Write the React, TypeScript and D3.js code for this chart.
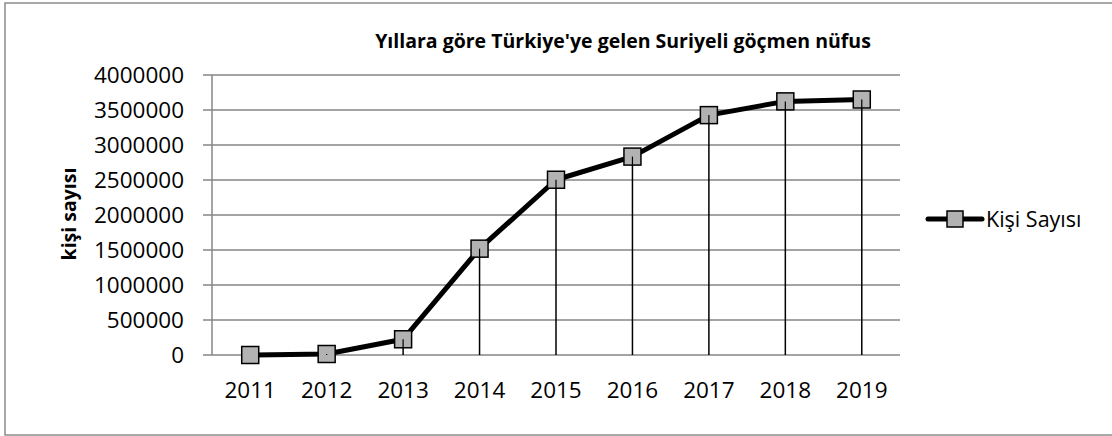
import React, { useEffect, useRef } from 'react';
import * as d3 from 'd3';

const years = ['2011', '2012', '2013', '2014', '2015', '2016', '2017', '2018', '2019'];
const people = [0, 14237, 224655, 1519286, 2503549, 2834441, 3426786, 3623192, 3650000];
const yTicks = [0, 500000, 1000000, 1500000, 2000000, 2500000, 3000000, 3500000, 4000000];

const title = "Yıllara göre Türkiye'ye gelen Suriyeli göçmen nüfus";
const yLabel = 'kişi sayısı';
const seriesName = 'Kişi Sayısı';

const W = 1112;
const H = 436;
const FONT = '"Open Sans", sans-serif';

export default function App() {
  const svgRef = useRef<SVGSVGElement>(null);

  useEffect(() => {
    document.body.style.margin = '0';
    if (!svgRef.current) return;
    const svg = d3.select(svgRef.current);
    svg.selectAll('*').remove();

    const plot = { left: 212, right: 900, top: 75, bottom: 355 };

    const x = d3.scaleBand<string>().domain(years).range([plot.left, plot.right]);
    const y = d3.scaleLinear().domain([0, 4000000]).range([plot.bottom, plot.top]);
    const cx = (d: string) => (x(d) as number) + x.bandwidth() / 2;

    // chart border (right side runs off the page)
    svg.append('rect')
      .attr('x', 5).attr('y', 3)
      .attr('width', W + 10).attr('height', 432)
      .attr('fill', '#fff')
      .attr('stroke', '#8c8c8c')
      .attr('stroke-width', 1.5);

    // gridlines + tick stubs
    svg.append('g')
      .selectAll('line')
      .data(yTicks)
      .join('line')
      .attr('x1', plot.left - 9)
      .attr('x2', plot.right)
      .attr('y1', d => y(d))
      .attr('y2', d => y(d))
      .attr('stroke', '#868686')
      .attr('stroke-width', 1.5);

    // y axis line
    svg.append('line')
      .attr('x1', plot.left).attr('x2', plot.left)
      .attr('y1', plot.top).attr('y2', plot.bottom)
      .attr('stroke', '#868686')
      .attr('stroke-width', 1.5);

    // y tick labels
    svg.append('g')
      .selectAll('text')
      .data(yTicks)
      .join('text')
      .attr('x', 184)
      .attr('y', d => y(d))
      .attr('dy', '0.35em')
      .attr('text-anchor', 'end')
      .attr('font-family', FONT)
      .attr('font-size', 22.5)
      .attr('fill', '#000')
      .text(d => String(d));

    // x tick labels
    svg.append('g')
      .selectAll('text')
      .data(years)
      .join('text')
      .attr('x', d => cx(d))
      .attr('y', 398)
      .attr('text-anchor', 'middle')
      .attr('font-family', FONT)
      .attr('font-size', 22.5)
      .attr('fill', '#000')
      .text(d => d);

    // drop lines
    svg.append('g')
      .selectAll('line')
      .data(years)
      .join('line')
      .attr('x1', d => cx(d))
      .attr('x2', d => cx(d))
      .attr('y1', (d, i) => y(people[i]))
      .attr('y2', plot.bottom)
      .attr('stroke', '#000')
      .attr('stroke-width', 1.5);

    // series line
    const line = d3.line<number>()
      .x((d, i) => cx(years[i]))
      .y(d => y(d));

    svg.append('path')
      .datum(people)
      .attr('fill', 'none')
      .attr('stroke', '#000')
      .attr('stroke-width', 5)
      .attr('stroke-linejoin', 'round')
      .attr('d', line);

    // markers
    const m = 17;
    svg.append('g')
      .selectAll('rect')
      .data(people)
      .join('rect')
      .attr('x', (d, i) => cx(years[i]) - m / 2)
      .attr('y', d => y(d) - m / 2)
      .attr('width', m)
      .attr('height', m)
      .attr('fill', '#b2b2b2')
      .attr('stroke', '#000')
      .attr('stroke-width', 1.5);

    // drop lines drawn over markers (they show through in the original)
    svg.append('g')
      .selectAll('line')
      .data(years)
      .join('line')
      .attr('x1', d => cx(d))
      .attr('x2', d => cx(d))
      .attr('y1', (d, i) => y(people[i]))
      .attr('y2', (d, i) => Math.min(plot.bottom, y(people[i]) + m / 2))
      .attr('stroke', '#000')
      .attr('stroke-width', 1.2);

    // title
    svg.append('text')
      .attr('x', 623)
      .attr('y', 48)
      .attr('text-anchor', 'middle')
      .attr('font-family', FONT)
      .attr('font-weight', 'bold')
      .attr('font-size', 19.5)
      .attr('fill', '#000')
      .text(title);

    // y axis title
    svg.append('text')
      .attr('transform', `translate(76,214) rotate(-90)`)
      .attr('text-anchor', 'middle')
      .attr('font-family', FONT)
      .attr('font-weight', 'bold')
      .attr('font-size', 19.5)
      .attr('fill', '#000')
      .text(yLabel);

    // legend
    const lg = svg.append('g');
    lg.append('line')
      .attr('x1', 928).attr('x2', 982)
      .attr('y1', 219).attr('y2', 219)
      .attr('stroke', '#000')
      .attr('stroke-width', 5)
      .attr('stroke-linecap', 'round');
    lg.append('rect')
      .attr('x', 955 - 8).attr('y', 219 - 8)
      .attr('width', 16).attr('height', 16)
      .attr('fill', '#b2b2b2')
      .attr('stroke', '#000')
      .attr('stroke-width', 1.5);
    lg.append('text')
      .attr('x', 986)
      .attr('y', 219)
      .attr('dy', '0.35em')
      .attr('font-family', FONT)
      .attr('font-size', 21.5)
      .attr('fill', '#000')
      .text(seriesName);
  }, []);

  return <svg ref={svgRef} width={W} height={H} style={{ display: 'block' }} />;
}
